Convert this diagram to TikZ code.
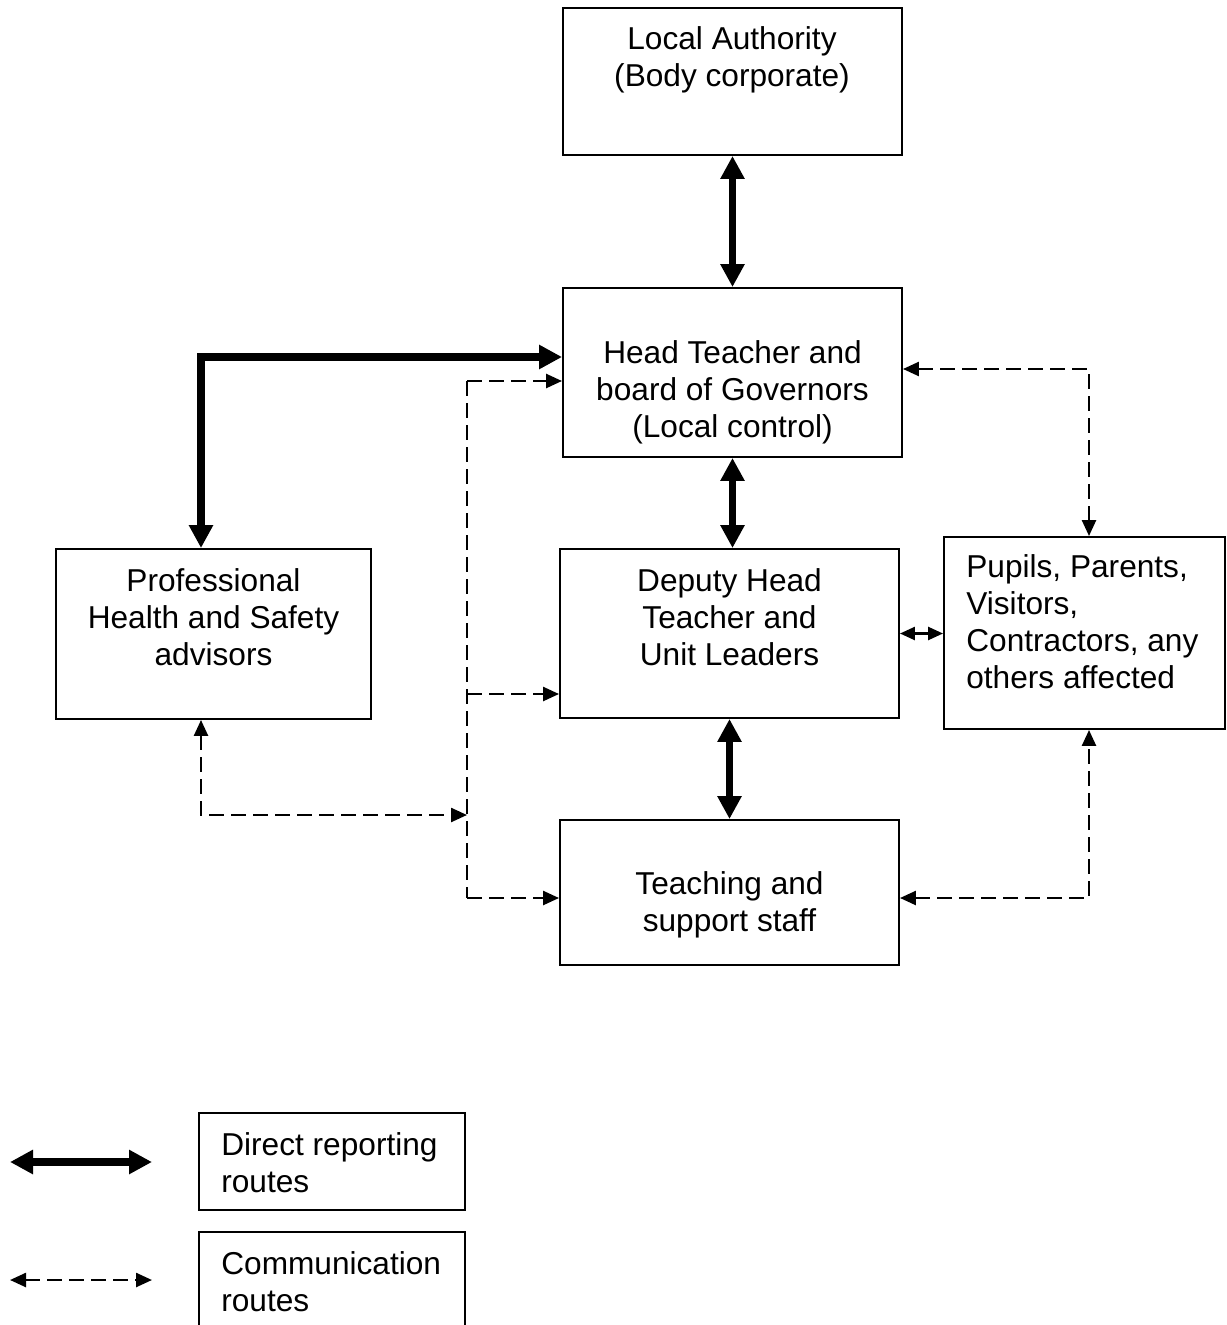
\documentclass[tikz,border=0pt]{standalone}
\usepackage{fontspec}
\setmainfont{Liberation Sans}
\usepackage{tikz}
\usetikzlibrary{arrows.meta, positioning, calc}
\tikzset{%
	box/.style={draw, rectangle, line width=1.1pt, inner sep=0mm},
	txt/.style={align=center, inner sep=0mm, font=\fontsize{18}{21}\selectfont},
	direct/.style={line width=4.5pt, >={Triangle[length=4.6mm, width=4.6mm]}},
	comm/.style={line width=1.4pt, dash pattern=on 3mm off 1.4mm,%
		>={Triangle[length=3.2mm, width=2.8mm]}},
	link/.style={line width=1.4pt, >={Triangle[length=3mm, width=2.6mm]}}
}

\begin{document}
\begin{tikzpicture}
  \useasboundingbox (0,0) rectangle (24.54,-26.5);

  \node[box, minimum width=6.78cm, minimum height=2.94cm] (la) at (14.65,-1.63) {};
  \node[txt] (la text) at (14.64,-1.2) {Local Authority\\(Body corporate)};

  \node[box, minimum width=6.78cm, minimum height=3.38cm] (ht) at (14.65,-7.45) {};
  \node[txt] (ht text) at (14.65,-7.84) {Head Teacher and\\board of Governors\\(Local control)};

  \node[box, minimum width=6.78cm, minimum height=3.38cm] (dh) at (14.59,-12.67) {};
  \node[txt] (dh text) at (14.59,-12.34) {Deputy Head\\Teacher and\\Unit Leaders};

  \node[box, minimum width=5.62cm, minimum height=3.84cm] (pp) at (21.69,-12.66) {};
  \node[txt, align=left, anchor=west] (pp text) at (19.32,-12.44) {Pupils, Parents,\\Visitors,\\Contractors, any\\others affected};

  \node[box, minimum width=6.3cm, minimum height=3.4cm] (pr) at (4.27,-12.68) {};
  \node[txt] (pr text) at (4.27,-12.34) {Professional\\Health and Safety\\advisors};

  \node[box, minimum width=6.78cm, minimum height=2.9cm] (ts) at (14.59,-17.85) {};
  \node[txt] (ts text) at (14.59,-18.1) {Teaching and\\support staff};

  \node[box, minimum width=5.32cm, minimum height=1.94cm] (lg1) at (6.64,-23.23) {};
  \node[txt, align=left, anchor=west] (lg1 text) at (4.42,-23.26) {Direct reporting\\routes};
  \node[box, minimum width=5.32cm, minimum height=1.94cm] (lg2) at (6.64,-25.61) {};
  \node[txt, align=left, anchor=west] (lg2 text) at (4.42,-25.64) {Communication\\routes};

  \coordinate (c1) at (4.02,-7.14);
  \coordinate (c2) at (21.78,-7.38);
  \coordinate (c3) at (21.78,-17.96);
  \coordinate (c4) at (4.02,-16.3);
  \coordinate (bt) at (9.34,-7.62);
  \coordinate (bm) at (9.34,-13.88);
  \coordinate (bp) at (9.34,-16.3);
  \coordinate (bb) at (9.34,-17.96);
  \coordinate (l1a) at (0.2,-23.24);
  \coordinate (l1b) at (3.04,-23.24);
  \coordinate (l2a) at (0.2,-25.6);
  \coordinate (l2b) at (3.04,-25.6);

  \draw[direct, <->] (la.south) -- (ht.north);
  \draw[direct, <->] (ht.south) -- (dh.north -| ht.south);
  \draw[direct, <->] (dh.south) -- (ts.north);
  \draw[direct, <->] (pr.north -| c1) -- (c1) -- (ht.west |- c1);

  \draw[comm, <->] (ht.east |- c2) -- (c2) -- (pp.north -| c2);
  \draw[comm, <->] (ts.east |- c3) -- (c3) -- (pp.south -| c3);
  \draw[link, <->] (dh.east) -- (pp.west |- dh.east);

  \draw[comm] (bt) -- (bb);
  \draw[comm, ->] (bt) -- (ht.west |- bt);
  \draw[comm, ->] (bm) -- (dh.west |- bm);
  \draw[comm, ->] (bb) -- (ts.west |- bb);
  \draw[comm, <->] (pr.south -| c4) -- (c4) -- (bp);

  \draw[direct, <->] (l1a) -- (l1b);
  \draw[comm, <->] (l2a) -- (l2b);
\end{tikzpicture}
\end{document}
